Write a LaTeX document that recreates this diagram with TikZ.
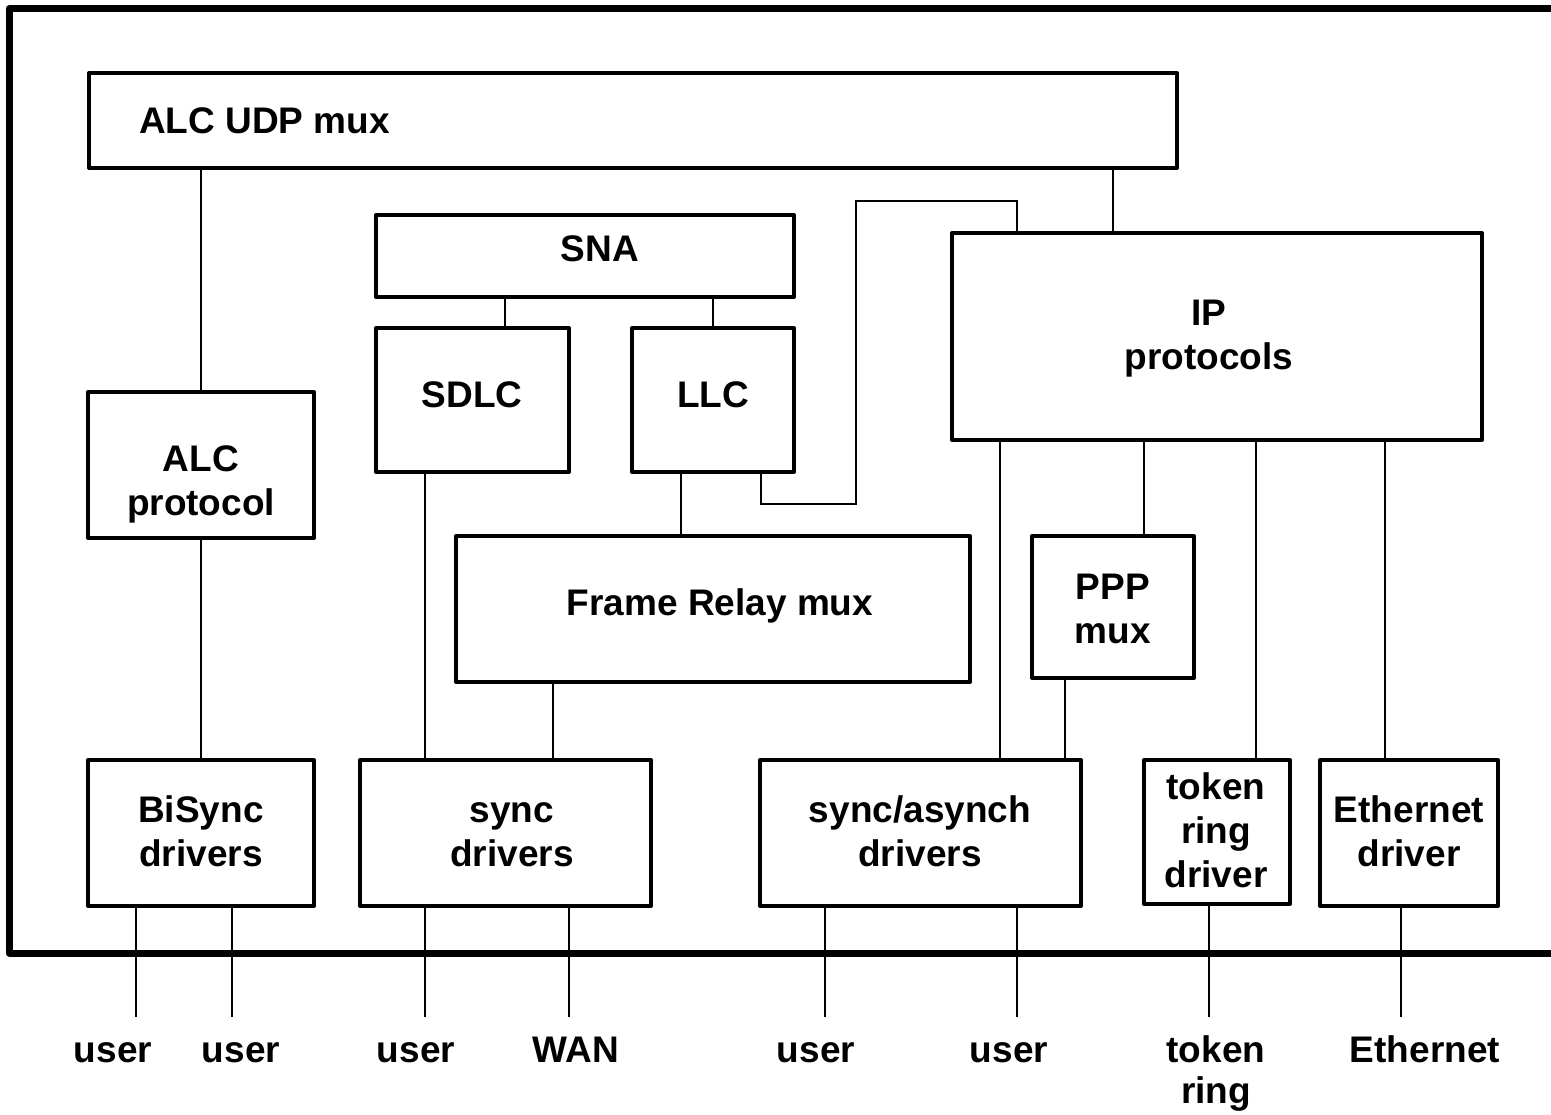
\documentclass[tikz,border=0pt]{standalone}
\usepackage{fontspec}
\setmainfont{Liberation Sans}
\begin{document}
\begin{tikzpicture}[x=1pt,y=-1pt,
  box/.style={draw,line width=4pt,line join=round,minimum width=#1,inner sep=0pt},
  wire/.style={line width=1.5pt},
  frame/.style={line width=7pt,line join=round},
  lbl/.style={font=\fontsize{37}{44}\selectfont\bfseries,align=center,anchor=base,inner sep=0pt},
  ext/.style={font=\fontsize{37}{41}\selectfont\bfseries,align=center,anchor=base,inner sep=0pt}]
\clip (0,0) rectangle (1551,1115);
\fill[white] (0,0) rectangle (1551,1115);

% enclosing system frame, open to the right
\draw[frame] (1570,8.5) -- (9,8.5) -- (9,953) -- (1570,953);

% protocol boxes
\node[box=1088,minimum height=95]  (udp)    at (633,120.5) {};
\node[box=418, minimum height=82]  (sna)    at (585,256)   {};
\node[box=193, minimum height=144] (sdlc)   at (472.5,400) {};
\node[box=162, minimum height=144] (llc)    at (713,400)   {};
\node[box=226, minimum height=146] (alcp)   at (201,465)   {};
\node[box=530, minimum height=207] (ip)     at (1217,336.5){};
\node[box=514, minimum height=146] (fr)     at (713,609)   {};
\node[box=162, minimum height=142] (ppp)    at (1113,607)  {};
% driver boxes
\node[box=226, minimum height=146] (bisync) at (201,833)   {};
\node[box=291, minimum height=146] (sync)   at (505.5,833) {};
\node[box=321, minimum height=146] (sa)     at (920.5,833) {};
\node[box=146, minimum height=144] (tr)     at (1217,832)  {};
\node[box=178, minimum height=146] (eth)    at (1409,833)  {};

% box captions (base = baseline of the last line)
\node[lbl,anchor=base west] (tudp) at (139,134) {ALC UDP mux};
\node[lbl] (tsna)  at (600,262) {SNA};
\node[lbl] (tsdlc) at (472,407) {SDLC};
\node[lbl] (tllc)  at (713,407) {LLC};
\node[lbl] (talcp) at (201,515) {ALC\\protocol};
\node[lbl] (tip)   at (1209,370) {IP\\protocols};
\node[lbl] (tfr)   at (720,615) {Frame Relay mux};
\node[lbl] (tppp)  at (1113,643) {PPP\\mux};
\node[lbl] (tbis)  at (201,866) {BiSync\\drivers};
\node[lbl] (tsync) at (512,866) {sync\\drivers};
\node[lbl] (tsa)   at (920,866) {sync/asynch\\drivers};
\node[lbl] (ttr)   at (1216,887) {token\\ring\\driver};
\node[lbl] (teth)  at (1409,866) {Ethernet\\driver};

% internal connections
\draw[wire] (udp.south -| 201,0)  -- (alcp.north);
\draw[wire] (udp.south -| 1113,0) -- (ip.north -| 1113,0);
\draw[wire] (sna.south -| 505,0)  -- (sdlc.north -| 505,0);
\draw[wire] (sna.south -| 713,0)  -- (llc.north);
\draw[wire] (llc.south -| 761,0) -- (761,504) -| (856,201) -| (ip.north -| 1017,0);
\draw[wire] (llc.south -| 681,0)  -- (fr.north -| 681,0);
\draw[wire] (sdlc.south -| 425,0) -- (sync.north -| 425,0);
\draw[wire] (fr.south -| 553,0)   -- (sync.north -| 553,0);
\draw[wire] (alcp.south)          -- (bisync.north);
\draw[wire] (ip.south -| 1000,0)  -- (sa.north -| 1000,0);
\draw[wire] (ip.south -| 1144,0)  -- (ppp.north -| 1144,0);
\draw[wire] (ip.south -| 1256,0)  -- (tr.north -| 1256,0);
\draw[wire] (ip.south -| 1385,0)  -- (eth.north -| 1385,0);
\draw[wire] (ppp.south -| 1065,0) -- (sa.north -| 1065,0);

% external attachments
\coordinate (e1) at (136,1017);
\coordinate (e2) at (232,1017);
\coordinate (e3) at (425,1017);
\coordinate (e4) at (569,1017);
\coordinate (e5) at (825,1017);
\coordinate (e6) at (1017,1017);
\coordinate (e7) at (1209,1017);
\coordinate (e8) at (1401,1017);
\draw[wire] (bisync.south -| e1) -- (e1);
\draw[wire] (bisync.south -| e2) -- (e2);
\draw[wire] (sync.south -| e3) -- (e3);
\draw[wire] (sync.south -| e4) -- (e4);
\draw[wire] (sa.south -| e5) -- (e5);
\draw[wire] (sa.south -| e6) -- (e6);
\draw[wire] (tr.south -| e7) -- (e7);
\draw[wire] (eth.south -| e8) -- (e8);

\node[ext] (x1) at (113,1062)  {user};
\node[ext] (x2) at (241,1062)  {user};
\node[ext] (x3) at (416,1062)  {user};
\node[ext] (x4) at (576,1062)  {WAN};
\node[ext] (x5) at (816,1062)  {user};
\node[ext] (x6) at (1009,1062) {user};
\node[ext] (x7) at (1216,1103) {token\\ring};
\node[ext] (x8) at (1425,1062) {Ethernet};
\end{tikzpicture}
\end{document}
